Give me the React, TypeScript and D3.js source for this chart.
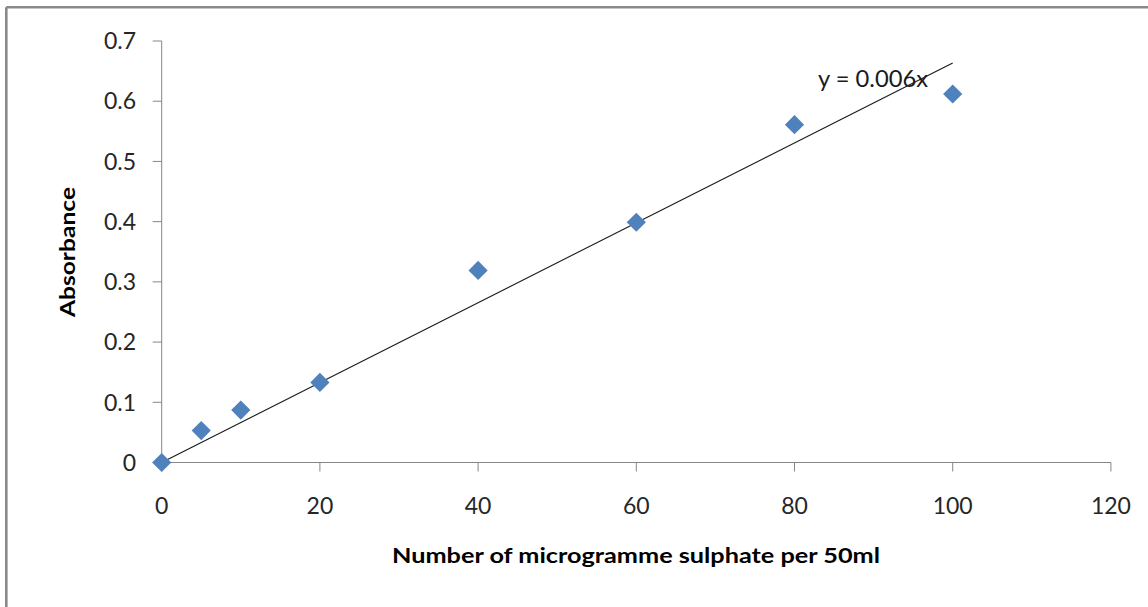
import React from "react";
import * as d3 from "d3";

const xValues = [0, 5, 10, 20, 40, 60, 80, 100];
const yValues = [0, 0.053, 0.087, 0.133, 0.319, 0.399, 0.561, 0.612];
const xTicks = [0, 20, 40, 60, 80, 100, 120];
const yTicks = [0, 0.1, 0.2, 0.3, 0.4, 0.5, 0.6, 0.7];
const trendSlope = 0.006635;
const trendRange = [0, 100];
const equationLabel = "y = 0.006x";
const xTitle = "Number of microgramme sulphate per 50ml";
const yTitle = "Absorbance";

const W = 1148;
const H = 607;
const FONT = "Lato, 'Open Sans', sans-serif";

export default function App() {
  const x = d3.scaleLinear().domain([0, 120]).range([161.7, 1110.9]);
  const y = d3.scaleLinear().domain([0, 0.7]).range([462.5, 41]);
  const axisColor = "#868686";
  const line = d3.line<number>().x((d) => x(d)).y((d) => y(d * trendSlope));
  const diamond = d3.symbol().type(d3.symbolDiamond2 ?? d3.symbolDiamond).size(235);

  return (
    <svg
      width={W}
      height={H}
      style={{ position: "absolute", left: 0, top: 0, background: "#fff" }}
    >
      {/* outer frame (top and left edges visible) */}
      <line x1={6.3} y1={7.3} x2={W + 5} y2={7.3} stroke="#898989" strokeWidth={2.6} />
      <line x1={6.3} y1={7.3} x2={6.3} y2={H + 5} stroke="#898989" strokeWidth={2.6} />

      {/* y axis */}
      <line x1={x(0)} y1={y(0)} x2={x(0)} y2={y(0.7)} stroke={axisColor} strokeWidth={1} />
      {yTicks.map((t) => (
        <g key={"y" + t}>
          <line x1={x(0) - 9} x2={x(0)} y1={y(t)} y2={y(t)} stroke={axisColor} />
          <text
            x={136}
            y={y(t)}
            dy="0.36em"
            textAnchor="end"
            fontFamily={FONT}
            fontSize={23}
            fill="#262626"
          >
            {t === 0 ? "0" : t.toFixed(1)}
          </text>
        </g>
      ))}

      {/* x axis */}
      <line x1={x(0)} y1={y(0)} x2={x(120)} y2={y(0)} stroke={axisColor} strokeWidth={1} />
      {xTicks.map((t) => (
        <g key={"x" + t}>
          <line x1={x(t)} x2={x(t)} y1={y(0)} y2={y(0) + 9} stroke={axisColor} />
          <text
            x={x(t)}
            y={514}
            textAnchor="middle"
            fontFamily={FONT}
            fontSize={23}
            fill="#262626"
          >
            {t}
          </text>
        </g>
      ))}

      {/* trendline */}
      <path d={line(trendRange) || ""} fill="none" stroke="#1a1a1a" strokeWidth={1.1} />

      {/* points */}
      {xValues.map((xv, i) => (
        <path
          key={"p" + i}
          d={diamond() || ""}
          transform={`translate(${x(xv)},${y(yValues[i])})`}
          fill="#4F81BD"
        />
      ))}

      {/* equation */}
      <text
        x={818}
        y={87}
        fontFamily={FONT}
        fontSize={22.5}
        fill="#1a1a1a"
        textLength={110}
        lengthAdjust="spacingAndGlyphs"
      >
        {equationLabel}
      </text>

      {/* axis titles */}
      <text
        x={636}
        y={563}
        textAnchor="middle"
        fontFamily={FONT}
        fontWeight="bold"
        fontSize={20.5}
        fill="#000"
        textLength={488}
        lengthAdjust="spacingAndGlyphs"
      >
        {xTitle}
      </text>
      <text
        transform={`translate(75,252) rotate(-90)`}
        textAnchor="middle"
        fontFamily={FONT}
        fontWeight="bold"
        fontSize={20.5}
        fill="#000"
        textLength={130}
        lengthAdjust="spacingAndGlyphs"
      >
        {yTitle}
      </text>
    </svg>
  );
}
